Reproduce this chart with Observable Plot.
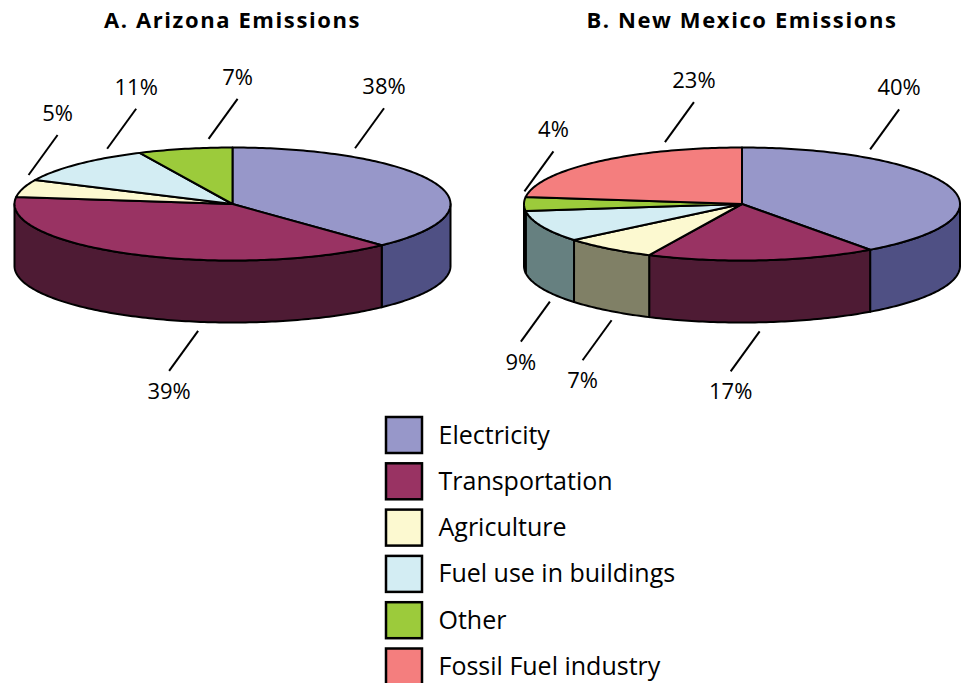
<!DOCTYPE html>
<html>
<head>
<meta charset="utf-8">
<script src="https://cdn.jsdelivr.net/npm/d3@7"></script>
<script src="https://cdn.jsdelivr.net/npm/@observablehq/plot@0.6"></script>
<style>
  html, body { margin: 0; padding: 0; background: #fff; }
  #chart svg { display: block; }
</style>
</head>
<body>
<div id="chart"></div>
<script>
// ---------- data ----------
const categories = ["Electricity", "Transportation", "Agriculture", "Fuel use in buildings", "Other", "Fossil Fuel industry"];
const topColors  = ["#9797c9", "#993363", "#fcf9d0", "#d3edf3", "#9ccb3b", "#f47e7e"];
const sideColors = ["#4f5084", "#4e1b34", "#808066", "#668080", "#4e661e", "#7a3f3f"];
const arizonaValues   = [38, 39, 5, 11, 7, 0];
const newMexicoValues = [40, 17, 7, 9, 4, 23];
const chartTitles = ["A. Arizona Emissions", "B. New Mexico Emissions"];

// ---------- layout ----------
const W = 966, H = 683;
const L = {
  centers: [232, 741.5], cy: 203.5, rx: 218, ry: 56.5, depth: 62,
  titleY: 20, gap: 9, leadDx: 29, leadDy: 40, textOff: 21,
  legX: 386, legY: 417, legSize: 36, legStep: 46.3, legTextX: 438
};
const FONT = "'Open Sans', 'Noto Sans', sans-serif";
const rad = d => d * Math.PI / 180;
const deg = r => r * 180 / Math.PI;
const P = (cx, a, dy = 0) => ({x: cx + L.rx * Math.cos(rad(a)), y: L.cy - L.ry * Math.sin(rad(a)) + dy});
const arc = (cx, from, to, dy) => {
  const n = Math.max(2, Math.ceil(Math.abs(from - to)));
  return d3.range(n + 1).map(k => P(cx, from + (to - from) * k / n, dy));
};
const norm = a => ((a % 360) + 360) % 360;
const circDist = (a, b) => { const d = Math.abs(norm(a) - norm(b)); return Math.min(d, 360 - d); };

const sidePts = [], topPts = [], leaders = [], labels = [];
[arizonaValues, newMexicoValues].forEach((values, p) => {
  const cx = L.centers[p];
  const total = d3.sum(values);
  let cum = 0;
  values.forEach((v, i) => {
    if (!v) return;
    const a0 = 90 - 360 * cum / total;
    const a1 = 90 - 360 * (cum + v) / total;
    cum += v;
    const id = `${p}-${i}`;
    // top face
    [{x: cx, y: L.cy}, ...arc(cx, a0, a1, 0)].forEach(pt => topPts.push({...pt, id, fill: topColors[i]}));
    // visible outer wall (front half: -180..0)
    const s0 = Math.min(a0, 0), s1 = Math.max(a1, -180);
    const hasSide = s0 > s1;
    if (hasSide) {
      [...arc(cx, s0, s1, 0), ...arc(cx, s1, s0, L.depth)].forEach(pt => sidePts.push({...pt, id, fill: sideColors[i]}));
    }
    // label anchor
    const mid = (a0 + a1) / 2;
    let start, end, tpos;
    if (Math.sin(rad(mid)) < -0.05) {
      // front slice: anchor under the middle of its visible wall
      let a = mid;
      if (hasSide) {
        const xm = (P(cx, s0).x + P(cx, s1).x) / 2;
        a = -deg(Math.acos(Math.max(-1, Math.min(1, (xm - cx) / L.rx))));
      }
      const b = P(cx, a, L.depth);
      start = {x: b.x, y: b.y + L.gap};
      end = {x: start.x - L.leadDx, y: start.y + L.leadDy};
      tpos = {x: end.x, y: end.y + L.textOff};
    } else {
      const near = circDist(a0, 90) <= circDist(a1, 90) ? a0 : a1;
      const far = near === a0 ? a1 : a0;
      const ang = near + 0.25 * (far - near);
      const b = P(cx, ang, 0);
      start = {x: b.x, y: b.y - L.gap};
      end = {x: start.x + L.leadDx, y: start.y - L.leadDy};
      tpos = {x: end.x, y: end.y - L.textOff};
    }
    leaders.push({x1: start.x, y1: start.y, x2: end.x, y2: end.y});
    labels.push({...tpos, text: `${v}%`});
  });
});

const titles = chartTitles.map((t, k) => ({x: L.centers[k], y: L.titleY, text: t}));
const legend = categories.map((c, i) => ({
  name: c, fill: topColors[i],
  y1: L.legY + i * L.legStep, y2: L.legY + i * L.legStep + L.legSize,
  ym: L.legY + i * L.legStep + L.legSize / 2
}));

const chart = Plot.plot({
  width: W, height: H,
  margin: 0,
  x: {domain: [0, W], range: [0, W], axis: null},
  y: {domain: [0, H], range: [0, H], axis: null},
  color: {type: "identity"},
  style: {fontFamily: FONT, background: "#fff", color: "#000"},
  marks: [
    Plot.line(sidePts, {x: "x", y: "y", z: "id", fill: "fill", stroke: "#000", strokeWidth: 2, curve: "linear-closed", strokeLinejoin: "round"}),
    Plot.line(topPts, {x: "x", y: "y", z: "id", fill: "fill", stroke: "#000", strokeWidth: 2, curve: "linear-closed", strokeLinejoin: "round"}),
    Plot.link(leaders, {x1: "x1", y1: "y1", x2: "x2", y2: "y2", stroke: "#000", strokeWidth: 2}),
    Plot.text(labels, {x: "x", y: "y", text: "text", fontSize: 22, fill: "#000"}),
    Plot.text(titles, {x: "x", y: "y", text: "text", fontSize: 22, fontWeight: "bold", fill: "#000"}),
    Plot.rect(legend, {x1: L.legX, x2: L.legX + L.legSize, y1: "y1", y2: "y2", fill: "fill", stroke: "#000", strokeWidth: 2.5}),
    Plot.text(legend, {x: L.legTextX, y: "ym", text: "name", textAnchor: "start", fontSize: 25, fill: "#000"})
  ]
});
// title tracking (letter-spacing) as in the reference
d3.select(chart).selectAll("text")
  .filter(function () { return chartTitles.includes(this.textContent); })
  .attr("letter-spacing", "1.6px")
  .style("letter-spacing", "1.6px");
document.getElementById("chart").appendChild(chart);
</script>
</body>
</html>
